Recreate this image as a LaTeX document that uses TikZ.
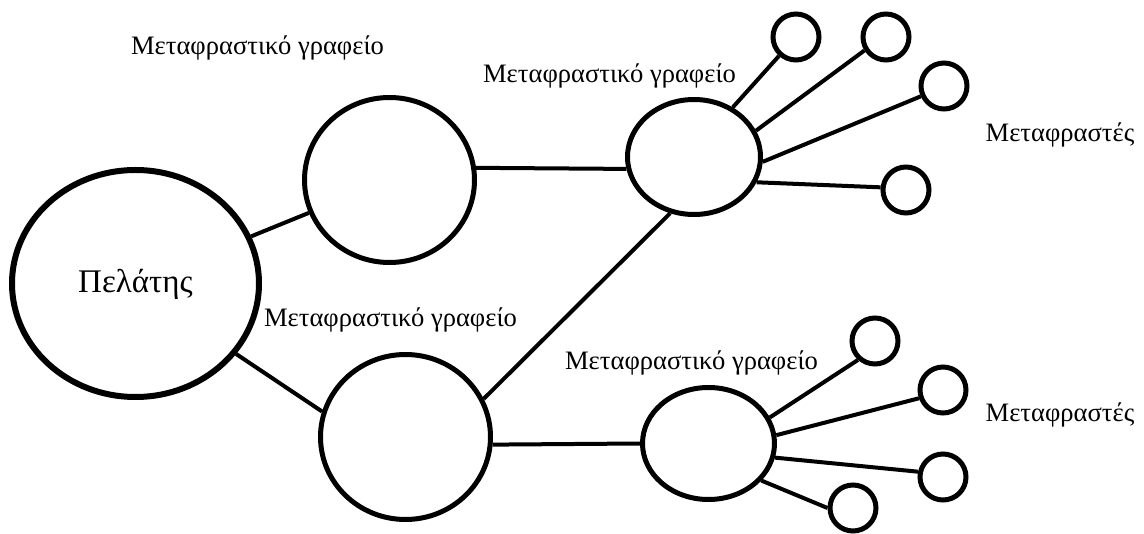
\documentclass[tikz,border=0pt]{standalone}
\usepackage{fontspec}
\setmainfont{Liberation Serif}
\usetikzlibrary{shapes.geometric}

\begin{document}
\begin{tikzpicture}[x=1pt,y=-1pt,
  blob/.style={draw=black, line width=5pt, ellipse, inner sep=0pt, fill=white},
  agent/.style={blob, circle, minimum size=46pt},
  link/.style={draw=black, line width=4pt},
  label/.style={anchor=base, inner sep=0pt, font=\fontsize{26.6}{30}\selectfont}
]
\useasboundingbox (0,0) rectangle (1144,534);

% client and the two agencies it works with
\node[blob, line width=6pt, minimum width=247pt, minimum height=227pt] (P) at (135.5,283.5) {};
\node[blob, minimum width=170pt, minimum height=165pt] (A) at (389.5,180) {};
\node[blob, minimum width=170pt, minimum height=165pt] (B) at (405.5,437) {};

% subcontracting agencies
\node[blob, minimum width=133pt, minimum height=115pt] (C) at (694,157) {};
\node[blob, minimum width=132pt, minimum height=112pt] (D) at (708.5,443.5) {};

% translators
\node[agent] (c1) at (796,37) {};
\node[agent] (c2) at (886,37) {};
\node[agent] (c3) at (944,86) {};
\node[agent] (c4) at (906,190) {};
\node[agent] (d1) at (875,341) {};
\node[agent] (d2) at (943,390) {};
\node[agent] (d3) at (943,477) {};
\node[agent] (d4) at (853,508) {};

% connections
\draw[link] (P) -- (A);
\draw[link] (P.-35) -- (B.163);
\draw[link] (A.8) -- (C.190);
\draw[link] (B.26) -- (C.247);
\draw[link] (B.-5) -- (D.180);
\draw[link] (C.52) -- (c1.228);
\draw[link] (C.23) -- (c2.212);
\draw[link] (C.-4) -- (c3.204);
\draw[link] (C.-22) -- (c4.174);
\draw[link] (D.23) -- (d1.228);
\draw[link] (D.7) -- (d2.199);
\draw[link] (D.-12) -- (d3.168);
\draw[link] (D.-35) -- (d4.180);

% labels
\node[anchor=base, inner sep=0pt, font=\fontsize{33}{38}\selectfont] (tP) at (135.5,293) {Πελάτης};
\node[label] (tA) at (257.5,55) {Μεταφραστικό γραφείο};
\node[label] (tC) at (609.5,83) {Μεταφραστικό γραφείο};
\node[label] (tB) at (390.5,327) {Μεταφραστικό γραφείο};
\node[label] (tD) at (691.5,370) {Μεταφραστικό γραφείο};
\node[label] (tr1) at (1060,142) {Μεταφραστές};
\node[label] (tr2) at (1060,422) {Μεταφραστές};
\end{tikzpicture}
\end{document}
